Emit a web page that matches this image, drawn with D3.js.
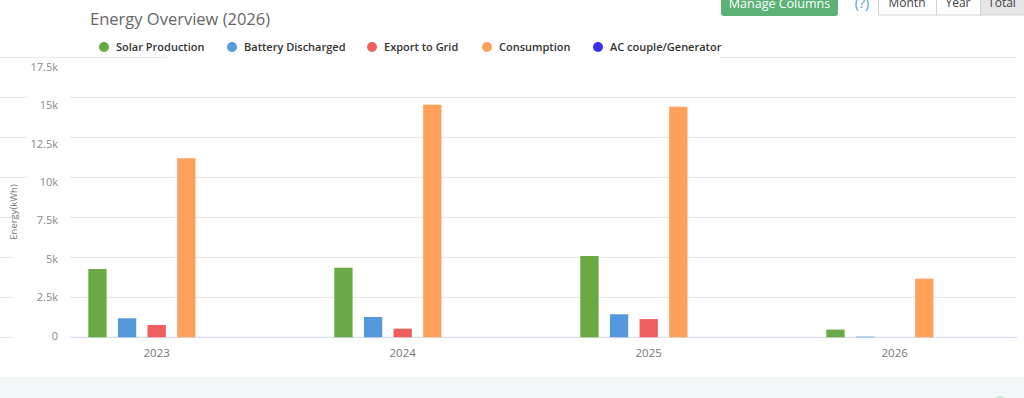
<!DOCTYPE html>
<html><head><meta charset="utf-8">
<script src="https://cdn.jsdelivr.net/npm/d3@7"></script>
<style>
html,body{margin:0;padding:0;background:#fff;overflow:hidden;}
svg{display:block;font-family:"Open Sans",sans-serif;}
</style></head>
<body>
<svg id="chart" width="1024" height="398"></svg>
<script>
const categories = ["2023", "2024", "2025", "2026"];
const seriesNames = ["Solar Production", "Battery Discharged", "Export to Grid", "Consumption", "AC couple/Generator"];
const solarProduction   = [4270, 4350, 5080, 480];
const batteryDischarged = [1190, 1270, 1440, 40];
const exportToGrid      = [770, 540, 1140, 0];
const consumption       = [11190, 14540, 14410, 3660];
const acCoupleGenerator = [0, 0, 0, 0];
const yTicks = [0, 2500, 5000, 7500, 10000, 12500, 15000, 17500];
const yTickLabels = ["0", "2.5k", "5k", "7.5k", "10k", "12.5k", "15k", "17.5k"];
const colors = ["#6aaa45", "#5499d9", "#f05f60", "#ffa15b", "#3a2ef0"];

const seriesValues = [solarProduction, batteryDischarged, exportToGrid, consumption, acCoupleGenerator];
const svg = d3.select("#chart");

// bottom band
svg.append("rect").attr("x",0).attr("y",377).attr("width",1024).attr("height",21).attr("fill","#f2f7f7");
svg.append("circle").attr("cx",1000).attr("cy",405).attr("r",9).attr("fill","#cfe9d6");

const y = d3.scaleLinear().domain([0, 17500]).range([337.3, 57.3]);
const yLab = d3.scaleLinear().domain([0, 17500]).range([335.7, 67]);
const x0 = d3.scaleBand().domain(categories).range([33.7, 1017.7]).paddingInner(0.444).paddingOuter(0.222);
const x1 = d3.scaleBand().domain(seriesNames).range([0, x0.bandwidth()]).paddingInner(0.382).paddingOuter(0);

// gridlines
const grid = svg.append("g");
grid.selectAll("line").data(yTicks.slice(1)).join("line")
  .attr("x1",0).attr("x2",1017).attr("y1",d=>y(d)).attr("y2",d=>y(d))
  .attr("stroke","#e6e6e6").attr("stroke-width",1);
// label backgrounds
grid.selectAll("rect.lb").data(yTicks.slice(0,-1)).join("rect").attr("class","lb")
  .attr("x",d=>d>=10000?27:13).attr("width",d=>d>=10000?43:57)
  .attr("y",d=>y(d)-2).attr("height",4).attr("fill","#fff");
// legend background over top gridline
svg.append("rect").attr("x",167).attr("y",52).attr("width",553).attr("height",8).attr("fill","#fff");

// axis baseline
svg.append("line").attr("x1",0).attr("x2",13).attr("y1",y(0)).attr("y2",y(0)).attr("stroke","#e6e6e6");
svg.append("line").attr("x1",70).attr("x2",1017).attr("y1",y(0)).attr("y2",y(0)).attr("stroke","#ccd6eb");

// y labels
svg.append("g").selectAll("text").data(yTicks).join("text")
  .attr("x",58).attr("y",d=>yLab(d)).attr("dy","0.35em")
  .attr("text-anchor","end").attr("fill","#8a8a8a").attr("font-size","11px")
  .text((d,i)=>yTickLabels[i]);

// y title
svg.append("text").attr("transform","translate(17,212) rotate(-90)")
  .attr("text-anchor","middle").attr("fill","#777").attr("font-size","9.5px").text("Energy(kWh)");

// bars
const groups = svg.append("g").selectAll("g").data(categories).join("g")
  .attr("transform",c=>`translate(${x0(c)},0)`);
groups.selectAll("rect").data((c,ci)=>seriesNames.map((s,si)=>({s,si,v:seriesValues[si][ci]}))).join("rect")
  .attr("x",d=>x1(d.s)).attr("width",x1.bandwidth())
  .attr("y",d=>y(d.v)).attr("height",d=>Math.max(0,y(0)-y(d.v)))
  .attr("fill",d=>colors[d.si]);

// x labels
svg.append("g").selectAll("text").data(categories).join("text")
  .attr("x",c=>x0(c)+x0.bandwidth()/2).attr("y",353).attr("dy","0.35em")
  .attr("text-anchor","middle").attr("fill","#777").attr("font-size","11.5px").text(c=>c);

// title
svg.append("text").attr("x",90).attr("y",25).attr("fill","#666").attr("font-size","16.5px")
  .attr("font-weight",400).text("Energy Overview (2026)");

// legend
const legendX = [104, 232, 372, 487, 598];
const leg = svg.append("g").selectAll("g").data(seriesNames).join("g")
  .attr("transform",(d,i)=>`translate(${legendX[i]},47)`);
leg.append("circle").attr("r",5).attr("fill",(d,i)=>colors[i]);
leg.append("text").attr("x",12).attr("dy","0.35em").attr("font-size","11px").attr("font-weight",600)
  .attr("fill","#333").text(d=>d);

// top controls
svg.append("rect").attr("x",721).attr("y",-6).attr("width",117).attr("height",22).attr("rx",3).attr("fill","#5cb176");
svg.append("text").attr("x",779.5).attr("y",8).attr("text-anchor","middle").attr("fill","#fff").attr("font-size","12.5px").text("Manage Columns");
svg.append("text").attr("x",862).attr("y",8).attr("text-anchor","middle").attr("fill","#5b9bd5").attr("font-size","14px").text("(?)");
const btns = [["Month",878,58,"#fff"],["Year",936,44,"#fff"],["Total",980,44,"#e6e6e6"]];
btns.forEach(b=>{
  svg.append("rect").attr("x",b[1]+0.5).attr("y",-6.5).attr("width",b[2]).attr("height",21.5)
    .attr("fill",b[3]).attr("stroke","#d4d4d4");
  svg.append("text").attr("x",b[1]+b[2]/2).attr("y",7).attr("text-anchor","middle").attr("fill","#444").attr("font-size","12px").text(b[0]);
});
</script>
</body></html>
